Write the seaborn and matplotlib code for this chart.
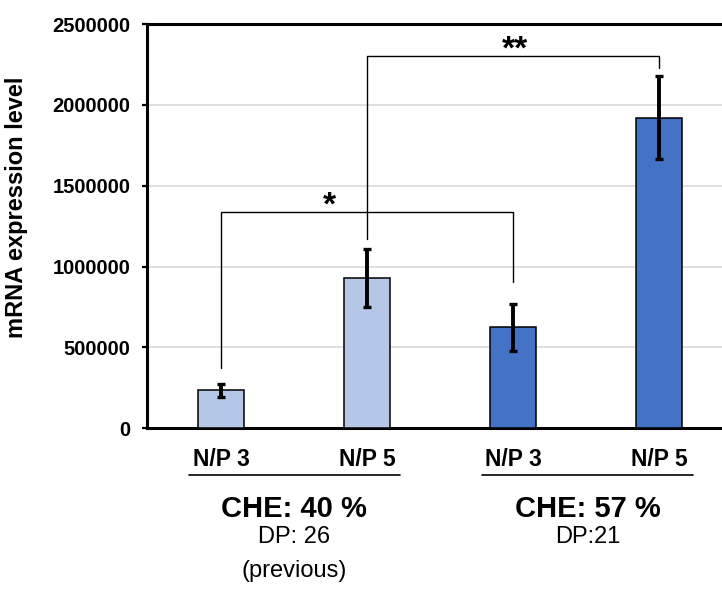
import matplotlib
matplotlib.use("Agg")
import matplotlib.pyplot as plt
import seaborn as sns
import pandas as pd

# Expression data
conditions = ["N/P 3 (40%)", "N/P 5 (40%)", "N/P 3 (57%)", "N/P 5 (57%)"]
tick_labels = ["N/P 3", "N/P 5", "N/P 3", "N/P 5"]
groups = ["CHE 40", "CHE 40", "CHE 57", "CHE 57"]
means = [235000, 929000, 624000, 1920000]
errors = [40000, 181000, 145000, 256000]
group_colors = {"CHE 40": "#B4C7E7", "CHE 57": "#4472C4"}

# Significance brackets
bracket_pairs = [(0, 2), (1, 3)]
bracket_heights = [1335000, 2304000]
bracket_left_ends = [373000, 1172000]
bracket_right_ends = [906000, 2230000]
bracket_marks = ["*", "**"]
mark_positions = [0.739, 2.012]

# Group captions under the axis
group_centers = [0.5, 2.51]
group_titles = ["CHE: 40 %", "CHE: 57 %"]
group_details = [["DP: 26", "(previous)"], ["DP:21"]]

df = pd.DataFrame({"condition": conditions, "mean": means, "group": groups})

sns.set_style("white")
plt.rcParams["font.family"] = ["Liberation Sans", "DejaVu Sans"]
plt.rcParams["text.color"] = "black"
plt.rcParams["axes.labelcolor"] = "black"
plt.rcParams["xtick.color"] = "black"
plt.rcParams["ytick.color"] = "black"

W, H = 722, 590
ax_left, ax_right, ax_top, ax_bottom = 147.3, 722, 24, 428.3
fig = plt.figure(figsize=(W / 100, H / 100), dpi=100)
ax = fig.add_axes([ax_left / W, 1 - ax_bottom / H, (ax_right - ax_left) / W,
                   (ax_bottom - ax_top) / H])

sns.barplot(data=df, x="condition", y="mean", hue="group", palette=group_colors,
            saturation=1, dodge=False, width=0.315, edgecolor="black",
            linewidth=1.1, errorbar=None, legend=False, ax=ax, zorder=3)

xs = list(range(len(conditions)))
ax.errorbar(xs, means, yerr=errors, fmt="none", ecolor="black", elinewidth=2.8,
            capsize=3.2, capthick=2.4, zorder=4)

# Axis styling
ax.set_xlim(-0.507, 3.43)
ax.set_ylim(0, 2500000)
yticks = list(range(0, 2500001, 500000))
ax.set_yticks(yticks)
ax.set_yticklabels([str(v) for v in yticks], fontsize=14.5, fontweight="bold")
ax.yaxis.grid(True, color="#D9D9D9", linewidth=1.2, zorder=0)
ax.set_axisbelow(True)
for side in ["left", "top", "bottom"]:
    ax.spines[side].set_visible(True)
    ax.spines[side].set_color("black")
    ax.spines[side].set_linewidth(2.2)
ax.spines["right"].set_visible(False)
ax.tick_params(axis="y", which="major", direction="out", length=3.8, width=1.6,
               color="black", left=True, pad=8.4)
ax.set_xticks(xs)
ax.set_xticklabels([])
ax.tick_params(axis="x", length=0)
ax.set_xlabel("")
ax.set_ylabel("mRNA expression level", fontsize=17, fontweight="bold")
ax.yaxis.label.set_verticalalignment("center")
ax.yaxis.set_label_coords((16.5 - ax_left) / (ax_right - ax_left),
                          (ax_bottom - 207.5) / (ax_bottom - ax_top))

trans = ax.get_xaxis_transform()

# Category labels under each bar
for x, lab in zip(xs, tick_labels):
    ax.text(x, -0.0932, lab, transform=trans, ha="center", va="baseline",
            fontsize=16.5, fontweight="bold")

# Significance brackets
for (a, b), h, yl, yr, mark, xm in zip(bracket_pairs, bracket_heights,
                                       bracket_left_ends, bracket_right_ends,
                                       bracket_marks, mark_positions):
    ax.plot([a, a, b, b], [yl, h, h, yr], color="black", linewidth=1.0, zorder=5)
    ax.text(xm, h - 16000, mark, ha="center", va="baseline", fontsize=24,
            fontweight="bold", zorder=5)

# Group underlines and captions
for center, title, details in zip(group_centers, group_titles, group_details):
    ax.plot([center - 0.722, center + 0.722], [-0.1155, -0.1155], color="black",
            linewidth=1.2, transform=trans, clip_on=False)
    ax.text(center, -0.2186, title, transform=trans, ha="center", va="baseline",
            fontsize=21, fontweight="bold")
    for k, line in enumerate(details):
        ax.text(center, -0.2844 - 0.0822 * k, line, transform=trans, ha="center",
                va="baseline", fontsize=17)

fig.savefig("out.png", dpi=100)
